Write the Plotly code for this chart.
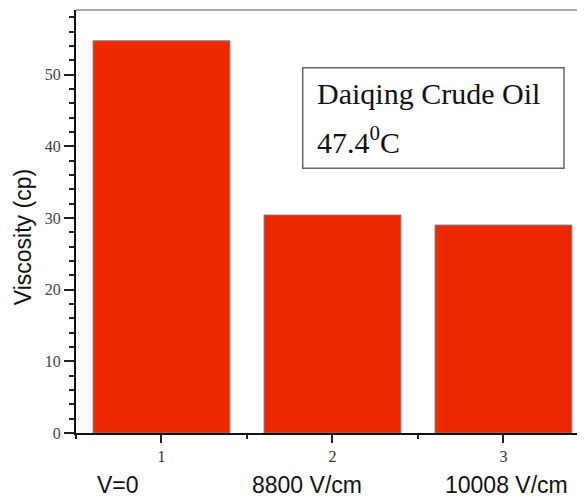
import plotly.graph_objects as go

# Data
positions = [1, 2, 3]
viscosity = [54.7, 30.4, 29.0]
x_tick_vals = [1, 2, 3]
x_tick_text = ["1", "2", "3"]
y_tick_vals = [0, 10, 20, 30, 40, 50]
y_tick_text = ["0", "10", "20", "30", "40", "50"]
category_labels = ["V=0", "8800 V/cm", "10008 V/cm"]
category_label_x = [0.746, 1.851, 3.02]
box_lines = ["Daiqing Crude Oil", "47.4<sup>0</sup>C"]

BAR_COLOR = "#F02800"
SERIF = "Liberation Serif"
SANS = "Liberation Sans"

fig = go.Figure()
fig.add_trace(go.Bar(
    x=positions, y=viscosity, width=0.8,
    marker=dict(color=BAR_COLOR, line=dict(color="#7a7a7a", width=1)),
    showlegend=False, hoverinfo="skip",
))

# page body has an 8px default margin -> figure is 8px smaller and margins shifted
fig.update_layout(
    template="none",
    width=577, height=492,
    margin=dict(l=68, r=0, t=2, b=67, pad=0),
    plot_bgcolor="white", paper_bgcolor="white",
    font=dict(family=SERIF, size=14, color="#444444"),
)

fig.update_xaxes(
    range=[0.5, 3.477],
    tickmode="array", tickvals=x_tick_vals, ticktext=x_tick_text,
    ticks="outside", ticklen=8, tickwidth=2, tickcolor="#222",
    showline=True, linecolor="#111", linewidth=2,
    showgrid=False, zeroline=False,
    tickfont=dict(family=SERIF, size=16, color="#333333"),
    minor=dict(dtick=0.5, tick0=0.5, ticks="outside", ticklen=4, tickwidth=2, tickcolor="#222", showgrid=False),
)
fig.update_yaxes(
    range=[0, 59.0],
    tickmode="array", tickvals=y_tick_vals, ticktext=y_tick_text,
    ticks="outside", ticklen=10, tickwidth=2, tickcolor="#222",
    showline=True, linecolor="#111", linewidth=2,
    showgrid=False, zeroline=False,
    tickfont=dict(family=SERIF, size=16, color="#444444"),
    minor=dict(dtick=2, tick0=0, ticks="outside", ticklen=5, tickwidth=2, tickcolor="#222", showgrid=False),
)

# top frame line (grey)
fig.add_shape(type="line", xref="paper", yref="paper", x0=0, x1=1, y0=1, y1=1,
              line=dict(color="#aaaaaa", width=2))

# Text box
fig.add_shape(type="rect", xref="x", yref="y", x0=1.826, x1=3.354, y0=36.94, y1=50.95,
              line=dict(color="#666666", width=1.5), fillcolor="rgba(0,0,0,0)")
fig.add_annotation(x=1.90, y=47.3, xref="x", yref="y", text=box_lines[0],
                   showarrow=False, xanchor="left", yanchor="middle",
                   font=dict(family=SERIF, size=30, color="#111"))
fig.add_annotation(x=1.90, y=40.9, xref="x", yref="y", text=box_lines[1],
                   showarrow=False, xanchor="left", yanchor="middle",
                   font=dict(family=SERIF, size=30, color="#111"))

# y-axis title
fig.add_annotation(x=-0.104, y=0.463, xref="paper", yref="paper", text="Viscosity (cp)",
                   textangle=-90, showarrow=False, xanchor="center", yanchor="middle",
                   font=dict(family=SANS, size=23, color="#111"))

# category labels
for lx, lab in zip(category_label_x, category_labels):
    fig.add_annotation(x=lx, y=-0.124, xref="x", yref="paper", text=lab,
                       showarrow=False, xanchor="center", yanchor="middle",
                       font=dict(family=SANS, size=23, color="#111"))

fig.write_html("out.html")
